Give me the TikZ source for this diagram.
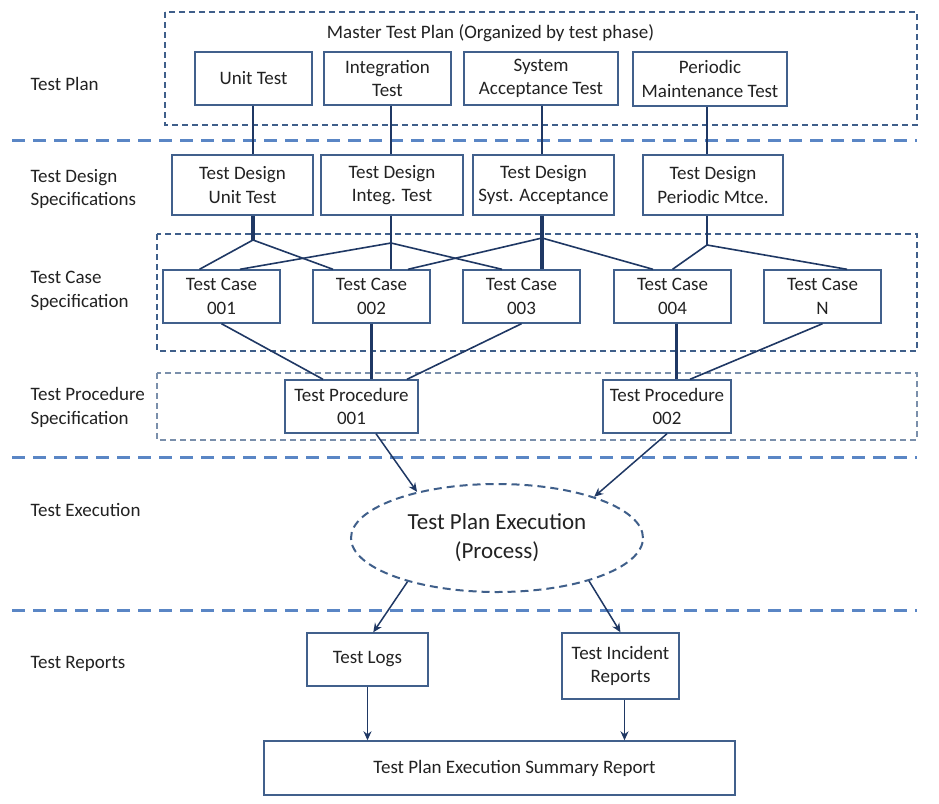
\documentclass[tikz,border=0pt]{standalone}
\usepackage{fontspec}
\setmainfont{Carlito}
\usetikzlibrary{calc,shapes.geometric,arrows.meta}
\definecolor{boxc}{HTML}{41608C}
\definecolor{linec}{HTML}{1F3864}
\definecolor{sepc}{HTML}{5A86C5}
\definecolor{framec}{HTML}{3F5F8A}
\definecolor{frameb}{HTML}{7A8FAB}
\definecolor{txt}{HTML}{222222}
\begin{document}
\begin{tikzpicture}[x=1pt,y=-1pt,
  every node/.style={font=\fontsize{19}{23.5}\selectfont, text=txt},
  box/.style={draw=boxc, line width=1.4pt, inner sep=0pt, align=center, fill=white},
  conn/.style={draw=linec, line width=1.6pt},
  boldconn/.style={draw=linec, line width=3.2pt},
  arr/.style={draw=linec, line width=1.5pt, -{Stealth[length=9pt,width=8pt]}},
  sepline/.style={draw=sepc, line width=3pt, dash pattern=on 13pt off 8pt},
  grp/.style={draw=framec, line width=1.5pt, dash pattern=on 6pt off 4pt},
  grpb/.style={draw=frameb, line width=1.5pt, dash pattern=on 6pt off 4pt},
  lab/.style={anchor=west, align=left}]
\useasboundingbox (0,0) rectangle (939,803);
\fill[white] (0,0) rectangle (939,803);

% containers and separators
\draw[grp] (165,12) rectangle (917,125);
\draw[grp] (157,234) rectangle (917,351);
\draw[grpb] (157,373) rectangle (917,440);
\draw[sepline] (12,140) -- (917,140);
\draw[sepline] (12,457) -- (917,457);
\draw[sepline] (12,610) -- (917,610);

% left labels
\node[lab] (l1) at (27,84) {Test Plan};
\node[lab] (l2) at (27,189) {Test Design\\Specifications};
\node[lab] (l3) at (27,291) {Test Case\\Specification};
\node[lab] (l4) at (27,407.5) {Test Procedure\\Specification};
\node[lab] (l5) at (27,510) {Test Execution};
\node[lab] (l6) at (27,664) {Test Reports};

% test plan
\node (mtp) at (490.5,33) {Master Test Plan (Organized by test phase)};
\node[box, minimum width=117pt, minimum height=53pt] (ut) at (253.5,78.5) {Unit Test};
\node[box, minimum width=127pt, minimum height=53pt] (it) at (387.5,78.5) {Integration\\Test};
\node[box, minimum width=154pt, minimum height=53pt] (sat) at (541,78.5) {System\\Acceptance Test};
\node[box, minimum width=154pt, minimum height=54pt] (pmt) at (710,79) {Periodic\\Maintenance Test};

% test design
\node[box, minimum width=141pt, minimum height=60pt] (tdu) at (242.5,185) {Test Design\\Unit Test};
\node[box, minimum width=142pt, minimum height=60pt] (tdi) at (392,185) {Test Design\\Integ. Test};
\node[box, minimum width=141pt, minimum height=60pt] (tds) at (543.5,185) {Test Design\\Syst. Acceptance};
\node[box, minimum width=140pt, minimum height=60pt] (tdp) at (713,185) {Test Design\\Periodic Mtce.};

% test cases
\node[box, minimum width=117pt, minimum height=53pt] (tc1) at (221.5,296.5) {Test Case\\001};
\node[box, minimum width=117pt, minimum height=53pt] (tc2) at (371.5,296.5) {Test Case\\002};
\node[box, minimum width=117pt, minimum height=53pt] (tc3) at (521.5,296.5) {Test Case\\003};
\node[box, minimum width=117pt, minimum height=53pt] (tc4) at (672.5,296.5) {Test Case\\004};
\node[box, minimum width=117pt, minimum height=53pt] (tcn) at (822.5,296.5) {Test Case\\N};

% procedures
\node[box, minimum width=133pt, minimum height=53pt] (tp1) at (351.5,406.5) {Test Procedure\\001};
\node[box, minimum width=128pt, minimum height=53pt] (tp2) at (667,406.5) {Test Procedure\\002};

% execution
\node[ellipse, draw=framec, line width=2pt, dash pattern=on 8pt off 5pt,
      minimum width=292pt, minimum height=108pt, inner sep=0pt, align=center,
      font=\fontsize{23}{29}\selectfont] (ex) at (497,538) {Test Plan Execution\\(Process)};

% reports
\node[box, minimum width=121pt, minimum height=53pt] (logs) at (367.5,659.5) {Test Logs};
\node[box, minimum width=117pt, minimum height=66pt] (inc) at (620.5,666) {Test Incident\\Reports};
\node[box, minimum width=471pt, minimum height=54pt] (sum) at (499.5,768) {\hspace*{30pt}Test Plan Execution Summary Report};

% junctions
\coordinate (j1) at (253,240);
\coordinate (j2) at (391,243);
\coordinate (j3) at (542,238);
\coordinate (j4) at (707,245);

% plan -> design
\draw[conn] (ut.south -| j1) -- (tdu.north -| j1);
\draw[conn] (it.south -| j2) -- (tdi.north -| j2);
\draw[conn] (sat.south -| j3) -- (tds.north -| j3);
\draw[conn] (pmt.south -| j4) -- (tdp.north -| j4);

% design -> cases
\draw[boldconn] (tdu.south -| j1) -- (j1);
\draw[conn] (j1) -- ($(tc1.north)+(-22,0)$);
\draw[conn] (j1) -- ($(tc2.north)+(-38.5,0)$);
\draw[conn] (tdi.south -| j2) -- (j2);
\draw[conn] (j2) -- ($(tc1.north)+(18.5,0)$);
\draw[conn] (j2) -- (tc2.north -| j2);
\draw[conn] (j2) -- ($(tc3.north)+(-19.5,0)$);
\draw[boldconn] (tds.south -| j3) -- (tc3.north -| j3);
\draw[conn] (j3) -- ($(tc2.north)+(36.5,0)$);
\draw[conn] (j3) -- ($(tc4.north)+(-19.5,0)$);
\draw[conn] (tdp.south -| j4) -- (j4);
\draw[conn] (j4) -- (tc4.north);
\draw[conn] (j4) -- ($(tcn.north)+(24.5,0)$);

% cases -> procedures
\draw[conn] (tc1.south) -- ($(tp1.north)+(-28.5,0)$);
\draw[boldconn] (tc2.south) -- (tc2.south |- tp1.north);
\draw[conn] (tc3.south) -- ($(tp1.north)+(55.5,0)$);
\draw[boldconn] ($(tc4.south)+(4,0)$) -- ($(tc4.south |- tp2.north)+(4,0)$);
\draw[conn] (tcn.south) -- ($(tp2.north)+(23,0)$);

% arrows
\draw[arr] (tp1.-48) -- (ex.150);
\draw[arr] (tp2.south) -- (ex.23);
\draw[arr] (ex.206) -- (logs.78);
\draw[arr] (ex.-25) -- (inc.north);
\draw[arr] (logs.south) -- (logs.south |- sum.north);
\draw[arr] ($(inc.south)+(4,0)$) -- ($(inc.south |- sum.north)+(4,0)$);
\end{tikzpicture}
\end{document}
